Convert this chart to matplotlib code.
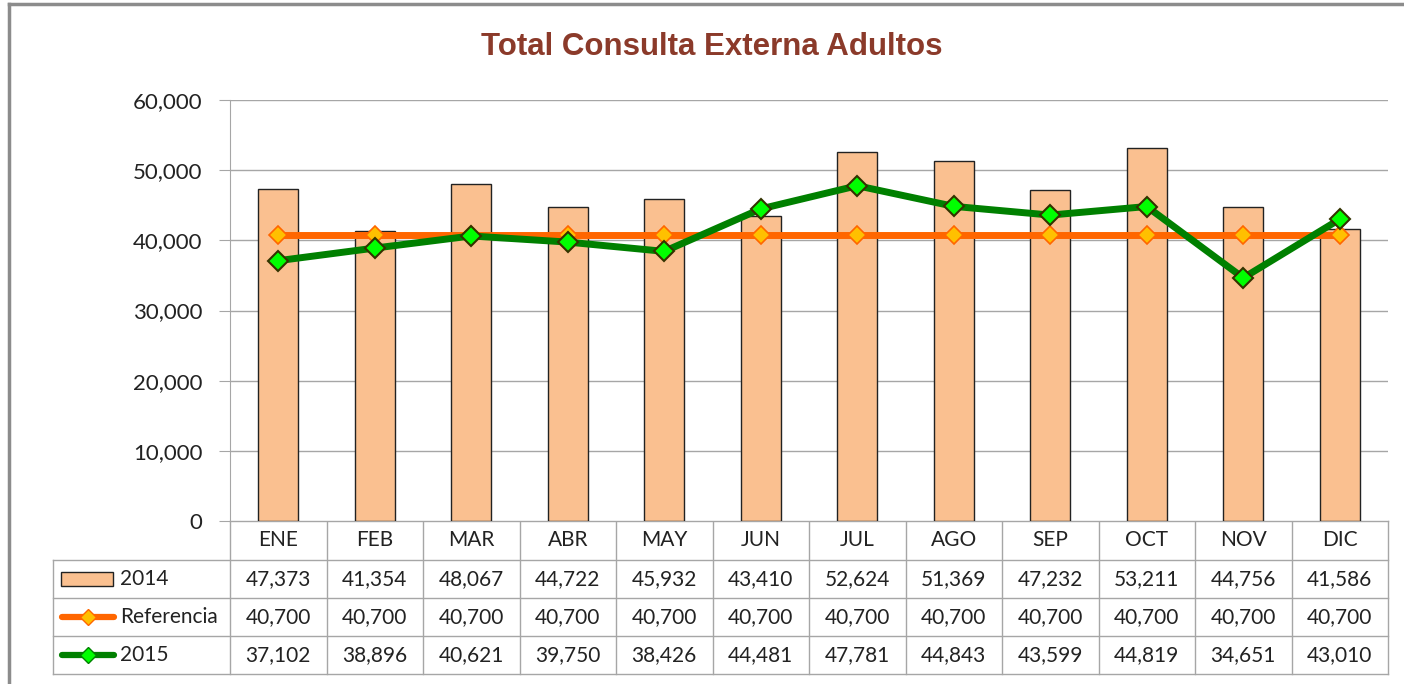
from matplotlib import pyplot as plt
from matplotlib.lines import Line2D
from matplotlib.patches import Rectangle
from matplotlib.ticker import FuncFormatter
import numpy as np

meses = ["ENE", "FEB", "MAR", "ABR", "MAY", "JUN", "JUL", "AGO", "SEP", "OCT", "NOV", "DIC"]
v2014 = [47373, 41354, 48067, 44722, 45932, 43410, 52624, 51369, 47232, 53211, 44756, 41586]
referencia = [40700] * 12
v2015 = [37102, 38896, 40621, 39750, 38426, 44481, 47781, 44843, 43599, 44819, 34651, 43010]

W, H = 1404, 684
fuente = "Lato"
gris = "#A6A6A6"

fig = plt.figure(figsize=(W / 100, H / 100), dpi=100)

# zona del grafico en pixeles
x0, x1 = 230, 1388
ytop, ybot = 100, 521
ax = fig.add_axes([x0 / W, 1 - ybot / H, (x1 - x0) / W, (ybot - ytop) / H])

x = np.arange(len(meses))
ax.bar(x, v2014, width=0.41, color="#FAC090", edgecolor="#222222", linewidth=1, zorder=2)
ax.plot(x, referencia, color="#FF6600", lw=5, marker="D", ms=9.5, mfc="#FFC000",
        mec="#FF6600", mew=1.2, zorder=3)
ax.plot(x, v2015, color="#008000", lw=5, marker="D", ms=10.5, mfc="#00FF00",
        mec="#333300", mew=1.5, zorder=4)

ax.set_xlim(-0.5, len(meses) - 0.5)
ax.set_ylim(0, 60000)
ax.set_yticks(np.arange(0, 60001, 10000))
ax.yaxis.set_major_formatter(FuncFormatter(lambda v, p: f"{int(v):,}"))
ax.set_xticks([])
ax.grid(axis="y", color=gris, lw=1, zorder=0)
for s in ["top", "right", "bottom"]:
    ax.spines[s].set_visible(False)
ax.spines["left"].set_color(gris)
ax.tick_params(axis="y", length=8, color=gris, labelsize=16, pad=12, labelcolor="#222222")
for t in ax.get_yticklabels():
    t.set_fontfamily(fuente)

fig.text(712 / W, 1 - 47 / H, "Total Consulta Externa Adultos", ha="center", va="center",
         fontsize=22.5, fontweight="bold", color="#8B3A2A",
         family=["Liberation Sans Narrow", "Liberation Sans"])

# tabla de datos
tb = fig.add_axes([0, 0, 1, 1], zorder=-1)
tb.set_xlim(0, W)
tb.set_ylim(H, 0)
tb.axis("off")

filas = [521, 560, 598, 636, 674]
tx0 = 53
cw = (x1 - x0) / len(meses)

tb.plot([x0, x1], [filas[0], filas[0]], color=gris, lw=1)
for yy in filas[1:]:
    tb.plot([tx0, x1], [yy, yy], color=gris, lw=1)
tb.plot([tx0, tx0], [filas[1], filas[-1]], color=gris, lw=1)
for i in range(len(meses) + 1):
    tb.plot([x0 + i * cw] * 2, [filas[0], filas[-1]], color=gris, lw=1)

series = [v2014, referencia, v2015]
nombres = ["2014", "Referencia", "2015"]
for i, m in enumerate(meses):
    cx = x0 + (i + 0.5) * cw
    tb.text(cx, (filas[0] + filas[1]) / 2, m, ha="center", va="center",
            fontsize=15, family=fuente, color="#222222")
    for r, serie in enumerate(series):
        tb.text(cx, (filas[r + 1] + filas[r + 2]) / 2, f"{serie[i]:,}", ha="center",
                va="center", fontsize=15, family=fuente, color="#222222")

for r, nombre in enumerate(nombres):
    cy = (filas[r + 1] + filas[r + 2]) / 2
    tb.text(120, cy, nombre, ha="left", va="center", fontsize=15, family=fuente,
            color="#222222")

cy = [(filas[r + 1] + filas[r + 2]) / 2 for r in range(3)]
tb.add_patch(Rectangle((61, cy[0] - 7), 52, 14, facecolor="#FAC090", edgecolor="#222222", lw=1))
tb.plot([62, 114], [cy[1], cy[1]], color="#FF6600", lw=4.5, solid_capstyle="round")
tb.plot([88], [cy[1]], marker="D", ms=8, mfc="#FFC000", mec="#FF6600", mew=1)
tb.plot([62, 114], [cy[2], cy[2]], color="#008000", lw=4.5, solid_capstyle="round")
tb.plot([88], [cy[2]], marker="D", ms=8, mfc="#00FF00", mec="#008000", mew=1)

# marco exterior
fig.add_artist(Line2D([9 / W, 9 / W], [0, 1 - 4 / H], color="#8C8C8C", lw=2.5))
fig.add_artist(Line2D([9 / W, 1], [1 - 4 / H, 1 - 4 / H], color="#8C8C8C", lw=2.5))

plt.savefig("out.png", dpi=100)
